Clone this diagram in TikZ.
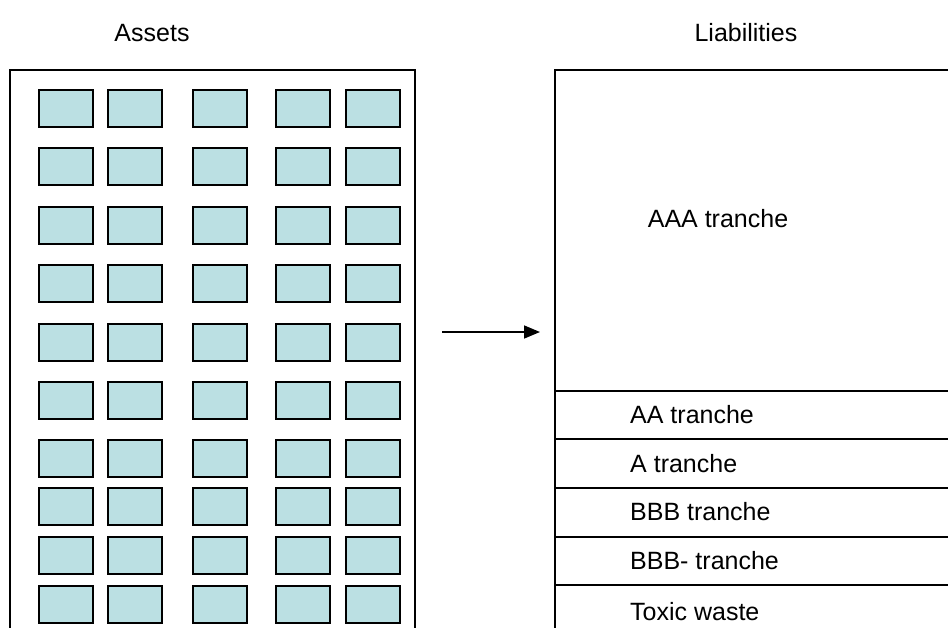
\documentclass[tikz,border=0pt]{standalone}
\usepackage{fontspec}
\setmainfont{Liberation Sans}
\usetikzlibrary{arrows.meta,positioning}
\definecolor{assetblue}{HTML}{BBE0E3}
\tikzset{
  asset/.style={draw,line width=2pt,fill=assetblue,minimum width=54pt,minimum height=37pt,inner sep=0pt},
  label/.style={inner sep=0pt,font=\fontsize{25}{30}\selectfont},
  tranche/.style={label,anchor=west},
  sheet/.style={draw,line width=2pt}
}

\begin{document}
\begin{tikzpicture}[x=1pt,y=-1pt]
\useasboundingbox (0,0) rectangle (948,627);
% balance sheet frames
\draw[sheet] (10,69.5) rectangle (415,640);
\draw[sheet] (555,69.5) rectangle (960,640);
\node[label] (assets) at (152,33) {Assets};
\node[label] (liabilities) at (746,33) {Liabilities};
% pool of assets
\foreach \y [count=\r] in {108.2,166.5,225,283.5,342,400.5,458.5,506.8,555.8,604.8}
  \foreach \x [count=\c] in {65.7,135.3,219.7,303.3,373}
    \node[asset] (a-\r-\c) at (\x,\y) {};
% tranches
\foreach \y in {390.5,439,488,536.5,585}
  \draw[sheet] (555,\y) -- (960,\y);
\node[label] (aaa) at (718,219) {AAA tranche};
\node[tranche] (aa) at (630,415) {AA tranche};
\node[tranche] (a) at (630,463.5) {A tranche};
\node[tranche] (bbb) at (630,512) {BBB tranche};
\node[tranche] (bbbm) at (630,561) {BBB- tranche};
\node[tranche] (toxic) at (630,611.5) {Toxic waste};
\coordinate (tail) at (442,332);
\coordinate (head) at (540,332);
\draw[line width=1.6pt,-{Triangle[length=16pt,width=13pt]}] (tail) -- (head);
\end{tikzpicture}
\end{document}
